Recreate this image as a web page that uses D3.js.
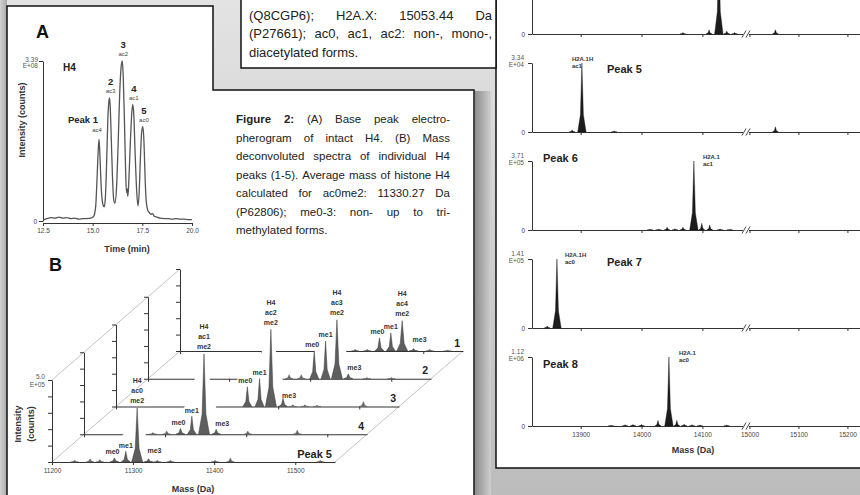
<!DOCTYPE html>
<html>
<head>
<meta charset="utf-8">
<script src="https://cdn.jsdelivr.net/npm/d3@7"></script>
<style>
  body { margin: 0; background: #fff; }
  svg { display: block; }
</style>
</head>
<body>
<div id="figure"></div>
<script>
let WIDTH = 860
let HEIGHT = 495
let FONT = '"Liberation Sans", Arial, sans-serif'

// Panel A: base peak electropherogram of intact H4 (time in min, intensity x1E+08 counts)
let timeA = [12.5, 12.7, 12.9, 13.1, 13.3, 13.5, 13.7, 13.9, 14.1, 14.3, 14.5, 14.7, 14.9, 15.05, 15.15, 15.22, 15.28, 15.32, 15.36, 15.42,
  15.5, 15.58, 15.64, 15.7, 15.76, 15.82, 15.85, 15.88, 15.94, 16.0, 16.06, 16.12, 16.2, 16.28, 16.36, 16.43, 16.49, 16.54, 16.6, 16.66,
  16.7, 16.74, 16.77, 16.82, 16.9, 16.97, 17.02, 17.07, 17.14, 17.22, 17.28, 17.34, 17.4, 17.47, 17.53, 17.58, 17.64, 17.7, 17.78, 17.85,
  17.92, 18.0, 18.1, 18.25, 18.4, 18.6, 18.8, 19.0, 19.2, 19.4, 19.6, 19.8, 20.0]
let intensityA = [0.02, 0.05, 0.07, 0.06, 0.08, 0.06, 0.07, 0.05, 0.06, 0.04, 0.05, 0.05, 0.06, 0.10, 0.30, 0.90, 1.50, 1.73, 1.45, 0.80,
  0.38, 0.30, 0.50, 1.20, 2.10, 2.55, 2.61, 2.45, 1.70, 0.90, 0.45, 0.38, 0.70, 1.60, 2.70, 3.25, 3.39, 3.05, 2.10, 1.05,
  0.60, 0.68, 0.52, 0.85, 1.70, 2.30, 2.47, 2.25, 1.40, 0.60, 0.32, 0.60, 1.30, 1.90, 2.00, 1.70, 0.90, 0.40, 0.22, 0.18,
  0.14, 0.16, 0.10, 0.08, 0.06, 0.05, 0.05, 0.04, 0.05, 0.04, 0.04, 0.03, 0.03]
let timeTicks = [12.5, 15.0, 17.5, 20.0]
let peakNamesA = ['Peak 1', '2', '3', '4', '5']
let peakFormsA = ['ac4', 'ac3', 'ac2', 'ac1', 'ac0']
let peakTimesA = [15.32, 15.85, 16.49, 17.02, 17.53]
let peakTopsA = [1.73, 2.61, 3.39, 2.47, 2.00]

// Panel B: deconvoluted spectra of H4 peaks 1-5 (mass in Da, intensity x1E+05 counts), back to front
let massTicksB = [11200, 11300, 11400, 11500]
let spectrumNamesB = ['1', '2', '3', '4', 'Peak 5']
let acFormsB = ['ac4', 'ac3', 'ac2', 'ac1', 'ac0']
let meFormsB = ['me0', 'me1', 'me2', 'me3']
let meMassB = [
  [11446, 11460, 11474, 11488],
  [11405, 11419, 11433, 11447],
  [11362, 11377, 11391, 11406],
  [11319, 11333, 11348, 11363],
  [11277, 11291, 11305, 11319]]
let meCountsB = [
  [0.8, 1.1, 1.85, 0.15],
  [1.7, 2.3, 3.6, 0.3],
  [1.2, 1.7, 4.7, 0.5],
  [0.35, 1.1, 4.9, 0.3],
  [0.25, 0.65, 3.3, 0.2]]
let noiseMassB = [
  [11416, 11431, 11508, 11530],
  [11374, 11389, 11470, 11500],
  [11418, 11433, 11448, 11505],
  [11269, 11285, 11302, 11402, 11463],
  [11228, 11247, 11259, 11330, 11346, 11401, 11420, 11531]]
let noiseCountsB = [
  [0.1, 0.1, 0.1, 0.05],
  [0.25, 0.25, 0.08, 0.08],
  [0.1, 0.1, 0.08, 0.3],
  [0.1, 0.1, 0.2, 0.2, 0.25],
  [0.1, 0.2, 0.15, 0.1, 0.1, 0.1, 0.25, 0.1]]

// Right figure: H2A spectra of peaks 4-8 (top one cropped), intensity in units of each panel's exponent
let massTicksR = [13900, 14000, 14100, 15000, 15100, 15200]
let peakNamesR = ['', 'Peak 5', 'Peak 6', 'Peak 7', 'Peak 8']
let fullScaleR = [1, 3.34, 3.71, 1.41, 1.12]
let exponentR = ['', 'E+04', 'E+05', 'E+05', 'E+06']
let isoformR = ['', 'H2A.1H', 'H2A.1', 'H2A.1H', 'H2A.1']
let acetylR = ['', 'ac1', 'ac1', 'ac0', 'ac0']
let peakMassR = [
  [14068, 14111, 14127, 14140, 14153, 15053],
  [13886, 13902, 13955, 15053],
  [14014, 14028, 14042, 14055, 14068, 14086, 14099, 14112, 14129, 14145],
  [13845, 13861],
  [13950, 13973, 13986, 14000, 14027, 14045, 14058, 14070, 14083, 14096, 14140]]
let peakCountsR = [
  [0.02, 0.06, 1.3, 0.04, 0.02, 0.06],
  [0.1, 3.34, 0.05, 0.25],
  [0.04, 0.04, 0.15, 0.07, 0.15, 3.71, 0.36, 0.27, 0.05, 0.03],
  [0.04, 1.41],
  [0.01, 0.02, 0.025, 0.025, 0.09, 1.12, 0.09, 0.03, 0.02, 0.015, 0.015]]

// caption texts
let captionTop = [
  '(Q8CGP6); H2A.X: 15053.44 Da',
  '(P27661); ac0, ac1, ac2: non-, mono-,',
  'diacetylated forms.']
let captionFig2 = [
  'Figure 2: (A) Base peak electro-',
  'pherogram of intact H4. (B) Mass',
  'deconvoluted spectra of individual H4',
  'peaks (1-5). Average mass of histone H4',
  'calculated for ac0me2: 11330.27 Da',
  '(P62806); me0-3: non- up to tri-',
  'methylated forms.']

let svg = d3.select('#figure')
    .append('svg')
    .attr('width', WIDTH)
    .attr('height', HEIGHT)
    .style('font-family', FONT)

let defs = svg.append('defs')
let addGradient = function(id, horizontal, stops) {
    let g = defs.append('linearGradient').attr('id', id)
        .attr('x1', 0).attr('y1', 0).attr('x2', horizontal ? 1 : 0).attr('y2', horizontal ? 0 : 1)
    stops.forEach((c, i) => g.append('stop').attr('offset', i / (stops.length - 1)).attr('stop-color', c))
}
addGradient('bg', false, ['#e3e3e3', '#bcbcbc'])
addGradient('shadowR', true, ['#8e8e8e', '#cfcfcf'])
addGradient('shadowL', true, ['#d2d2d2', '#a9a9a9'])

// sheets
svg.append('rect').attr('width', WIDTH).attr('height', HEIGHT).attr('fill', 'url(#bg)')
svg.append('rect').attr('x', 0).attr('y', 0).attr('width', 7).attr('height', HEIGHT).attr('fill', 'url(#shadowL)')
svg.append('rect').attr('x', 496).attr('y', -5).attr('width', 370).attr('height', 473).attr('fill', '#fff')
svg.append('path').attr('d', 'M496,-5V468H866').attr('fill', 'none').attr('stroke', '#111').attr('stroke-width', 1.5)
svg.append('rect').attr('x', 241).attr('y', -5).attr('width', 255).attr('height', 73)
    .attr('fill', '#fff').attr('stroke', '#111').attr('stroke-width', 1.5)
svg.append('rect').attr('x', 475).attr('y', 91).attr('width', 16).attr('height', 410).attr('fill', 'url(#shadowR)')
svg.append('path').attr('d', 'M7,500V6H213V90H474V500Z')
    .attr('fill', '#fff').attr('stroke', '#111').attr('stroke-width', 1.5)

let styleAxis = function(sel, size) {
    sel.attr('font-family', FONT).attr('font-size', size)
    sel.selectAll('path, line').attr('stroke', '#333')
    sel.selectAll('text').attr('fill', '#444')
}
let label = function(g, x, y, text, size, opts = {}) {
    return g.append('text')
        .attr('x', x).attr('y', y + size * 0.35)
        .attr('font-size', size)
        .attr('font-weight', opts.bold ? 'bold' : null)
        .attr('text-anchor', opts.anchor || 'middle')
        .attr('fill', opts.fill || '#222')
        .attr('transform', opts.rotate ? `rotate(-90,${x},${y})` : null)
        .text(text)
}
// label on a white patch, so lines behind it are hidden
let boxed = function(g, x, y, text, size, opts = {}) {
    let t = label(g, x, y, text, size, opts)
    let b = t.node().getBBox()
    g.insert('rect', () => t.node())
        .attr('x', b.x - 1).attr('y', b.y + 1).attr('width', b.width + 2).attr('height', b.height - 2)
        .attr('fill', '#fff')
    return t
}
let spike = function(x, y0, y1, w) {
    let yk = y0 + (y1 - y0) * 0.25
    return `M${x - w},${y0}L${x - w * 0.35},${yk}L${x},${y1}L${x + w * 0.35},${yk}L${x + w},${y0}Z`
}

// justified caption lines, word by word
let justify = function(lines, x0, width, y0, lineHeight, size, boldWords) {
    let g = svg.append('g').attr('font-size', size).attr('fill', '#222')
    lines.forEach((line, i) => {
        let words = line.split(' ')
        let y = y0 + i * lineHeight + size * 0.35
        let nodes = words.map((w, j) => g.append('text').attr('y', y)
            .attr('font-weight', (i === 0 && j < boldWords) ? 'bold' : null).text(w))
        let widths = nodes.map(n => n.node().getComputedTextLength())
        let last = i === lines.length - 1
        let gap = last ? size * 0.28 : (width - d3.sum(widths)) / (words.length - 1)
        let x = x0
        nodes.forEach((n, j) => { n.attr('x', x); x += widths[j] + gap })
    })
}
justify(captionTop, 249, 243, 15, 18.5, 13, 0)
justify(captionFig2, 236, 214, 119, 18.5, 11.5, 2)

// ---------------- Panel A ----------------
let gA = svg.append('g')
let xA = d3.scaleLinear().domain([12.5, 20]).range([43, 192])
let yA = d3.scaleLinear().domain([0, 3.39]).range([221, 61])

gA.append('g').attr('transform', 'translate(0,223)')
    .call(d3.axisBottom(xA).tickValues(timeTicks).tickFormat(d3.format('.1f')).tickSize(3).tickSizeOuter(0).tickPadding(2))
    .call(styleAxis, 6.5)
gA.append('g').attr('transform', 'translate(43,0)')
    .call(d3.axisLeft(yA).tickValues([0, 3.39]).tickFormat(d => d === 0 ? '0' : '').tickSize(4).tickSizeOuter(0).tickPadding(2))
    .call(styleAxis, 6.5)
label(gA, 38, 60, '3.39', 6.5, {anchor: 'end', fill: '#555'})
label(gA, 38, 66, 'E+08', 6.5, {anchor: 'end', fill: '#555'})

gA.append('path')
    .datum(d3.zip(timeA, intensityA))
    .attr('fill', 'none')
    .attr('stroke', '#555')
    .attr('stroke-width', 1.3)
    .attr('d', d3.line().x(d => xA(d[0])).y(d => yA(d[1])).curve(d3.curveMonotoneX))

label(gA, 36, 32, 'A', 18, {bold: true, anchor: 'start', fill: '#111'})
label(gA, 63, 67, 'H4', 10, {bold: true, anchor: 'start'})
label(gA, 22, 120, 'Intensity (counts)', 9, {bold: true, rotate: true, fill: '#333'})
label(gA, 127, 249, 'Time (min)', 9, {bold: true, fill: '#333'})
peakNamesA.forEach((name, i) => {
    let x = xA(peakTimesA[i])
    let top = yA(peakTopsA[i])
    if (i === 0) {
        label(gA, x - 1, top - 20, name, 9.5, {bold: true, anchor: 'end'})
        label(gA, x - 2, top - 9, peakFormsA[i], 6, {fill: '#444'})
    } else {
        label(gA, x + 1, top - 16, name, 9.5, {bold: true})
        label(gA, x + 1, top - 7, peakFormsA[i], 6, {fill: '#444'})
    }
})

// ---------------- Panel B ----------------
let xB = d3.scaleLinear().domain([11200, 11549]).range([0, 283])
let yB = d3.scaleLinear().domain([0, 5]).range([0, -82])
let stepX = 32
let stepY = -27.75
let frontX = 52
let frontY = 462
let nB = spectrumNamesB.length
let originB = k => [frontX + stepX * (nB - 1 - k), frontY + stepY * (nB - 1 - k)]

// floor of the stack
let backO = originB(0)
let floor = svg.append('g').attr('stroke', '#c4c4c4').attr('stroke-width', 1)
floor.append('line').attr('x1', frontX).attr('y1', frontY).attr('x2', backO[0]).attr('y2', backO[1])
floor.append('line').attr('x1', frontX).attr('y1', frontY + yB(5)).attr('x2', backO[0]).attr('y2', backO[1] + yB(5))
floor.append('line').attr('x1', frontX + xB.range()[1]).attr('y1', frontY)
    .attr('x2', backO[0] + xB.range()[1]).attr('y2', backO[1])

spectrumNamesB.forEach((name, k) => {
    let [ox, oy] = originB(k)
    let g = svg.append('g').attr('transform', `translate(${ox},${oy})`)
    let front = k === nB - 1

    // white body so front spectra hide the ones behind
    let pts = []
    meMassB[k].forEach((m, j) => {
        pts.push([xB(m) - 6, 0], [xB(m), yB(meCountsB[k][j])], [xB(m) + 6, 0])
    })
    g.append('path').attr('d', 'M' + d3.polygonHull(pts).join('L') + 'Z').attr('fill', '#fff')

    let ax = g.append('g')
        .call(d3.axisBottom(xB).tickValues(massTicksB).tickSize(3).tickSizeOuter(0).tickPadding(3)
            .tickFormat(front ? d3.format('d') : ''))
        .call(styleAxis, 6.5)
    ax.select('.domain').attr('stroke-width', 1.2)
    g.append('g')
        .call(d3.axisLeft(yB).tickValues([0, 1, 2, 3, 4, 5]).tickSize(4).tickSizeOuter(0).tickFormat(''))
        .call(styleAxis, 6.5)

    noiseMassB[k].forEach((m, j) => {
        g.append('path').attr('d', spike(xB(m), 0, yB(noiseCountsB[k][j]), 4))
            .attr('fill', '#666').attr('stroke', '#555').attr('stroke-width', 0.4)
    })
    meMassB[k].forEach((m, j) => {
        g.append('path').attr('d', spike(xB(m), 0, yB(meCountsB[k][j]), j === 2 ? 5.5 : 4.5))
            .attr('fill', '#5e5e5e').attr('stroke', '#3a3a3a').attr('stroke-width', 0.5)
    })

    let lab = g.append('g')
    let x2 = xB(meMassB[k][2])
    let t2 = yB(meCountsB[k][2])
    let small = {bold: true, fill: '#333'}
    boxed(lab, x2, t2 - 27, 'H4', 7, small)
    boxed(lab, x2, t2 - 17, acFormsB[k], 7, small)
    boxed(lab, x2, t2 - 7, meFormsB[2], 7, small)
    boxed(lab, xB(meMassB[k][0]) - 2, yB(meCountsB[k][0]) - 6, meFormsB[0], 7, small)
    boxed(lab, xB(meMassB[k][1]), yB(meCountsB[k][1]) - 6, meFormsB[1], 7, small)
    boxed(lab, xB(meMassB[k][3]) - 1, -11, meFormsB[3], 7, {bold: true, anchor: 'start', fill: '#333'})
    label(g, xB.range()[1] - 3, -8, name, front ? 11 : 10.5, {bold: true, anchor: 'end'})
})

let gBlab = svg.append('g')
label(gBlab, 45, 377, '5.0', 6.5, {anchor: 'end', fill: '#555'})
label(gBlab, 45, 385, 'E+05', 6.5, {anchor: 'end', fill: '#555'})
label(gBlab, 18, 424, 'Intensity', 9, {bold: true, rotate: true, fill: '#333'})
label(gBlab, 31, 424, '(counts)', 9, {bold: true, rotate: true, fill: '#333'})
label(gBlab, 193, 489, 'Mass (Da)', 9, {bold: true, fill: '#333'})
label(gBlab, 49, 265, 'B', 18, {bold: true, anchor: 'start', fill: '#111'})

// ---------------- Right figure (H2A) ----------------
let xR = d3.scaleLinear().domain([13820, 14170, 14995, 15240]).range([532, 745, 747, 867])
let baseR0 = 34
let stepR = 98
let heightR = 69
let nameLayoutR = [null, [607, 6], [543, -3], [607, 3], [543, 7]]
let isoShiftR = [0, -10, 9, 8, 10]

peakNamesR.forEach((name, i) => {
    let base = baseR0 + stepR * i
    let yR = d3.scaleLinear().domain([0, fullScaleR[i]]).range([base, base - heightR])
    let g = svg.append('g')
    let last = i === peakNamesR.length - 1

    g.append('g').attr('transform', `translate(0,${base})`)
        .call(d3.axisBottom(xR).tickValues(massTicksR).tickSize(3).tickSizeOuter(0).tickPadding(3)
            .tickFormat(last ? d3.format('d') : ''))
        .call(styleAxis, 6.5)
    g.append('g').attr('transform', 'translate(532,0)')
        .call(d3.axisLeft(yR).tickValues([0, fullScaleR[i]]).tickSize(4).tickSizeOuter(0).tickPadding(3)
            .tickFormat(d => d === 0 ? '0' : ''))
        .call(styleAxis, 6.5)

    // axis break
    let bx = xR(14170) + 1
    g.append('rect').attr('x', bx - 3).attr('y', base - 2).attr('width', 6).attr('height', 4).attr('fill', '#fff')
    ;[-2, 2].forEach(dx => {
        g.append('line').attr('x1', bx + dx - 2).attr('y1', base + 3.5).attr('x2', bx + dx + 2).attr('y2', base - 3.5)
            .attr('stroke', '#333').attr('stroke-width', 0.9)
    })

    let main = d3.maxIndex(peakCountsR[i])
    peakMassR[i].forEach((m, j) => {
        g.append('path').attr('d', spike(xR(m), base, yR(peakCountsR[i][j]), j === main ? 4.2 : 3))
            .attr('fill', '#1c1c1c').attr('stroke', '#111').attr('stroke-width', 0.4)
    })

    if (name) {
        let top = base - heightR
        label(g, 524, top - 5, fullScaleR[i].toFixed(2), 6.5, {anchor: 'end', fill: '#555'})
        label(g, 524, top + 2, exponentR[i], 6.5, {anchor: 'end', fill: '#555'})
        label(g, nameLayoutR[i][0], top + nameLayoutR[i][1], name, 11, {bold: true, anchor: 'start'})
        let px = xR(peakMassR[i][main]) + isoShiftR[i]
        label(g, px, top - 4, isoformR[i], 6, {bold: true, anchor: 'start', fill: '#333'})
        label(g, px, top + 3, acetylR[i], 6, {bold: true, anchor: 'start', fill: '#333'})
    }
    if (last) {
        label(g, 693, 450, 'Mass (Da)', 9, {bold: true, fill: '#333'})
    }
})
</script>
</body>
</html>
